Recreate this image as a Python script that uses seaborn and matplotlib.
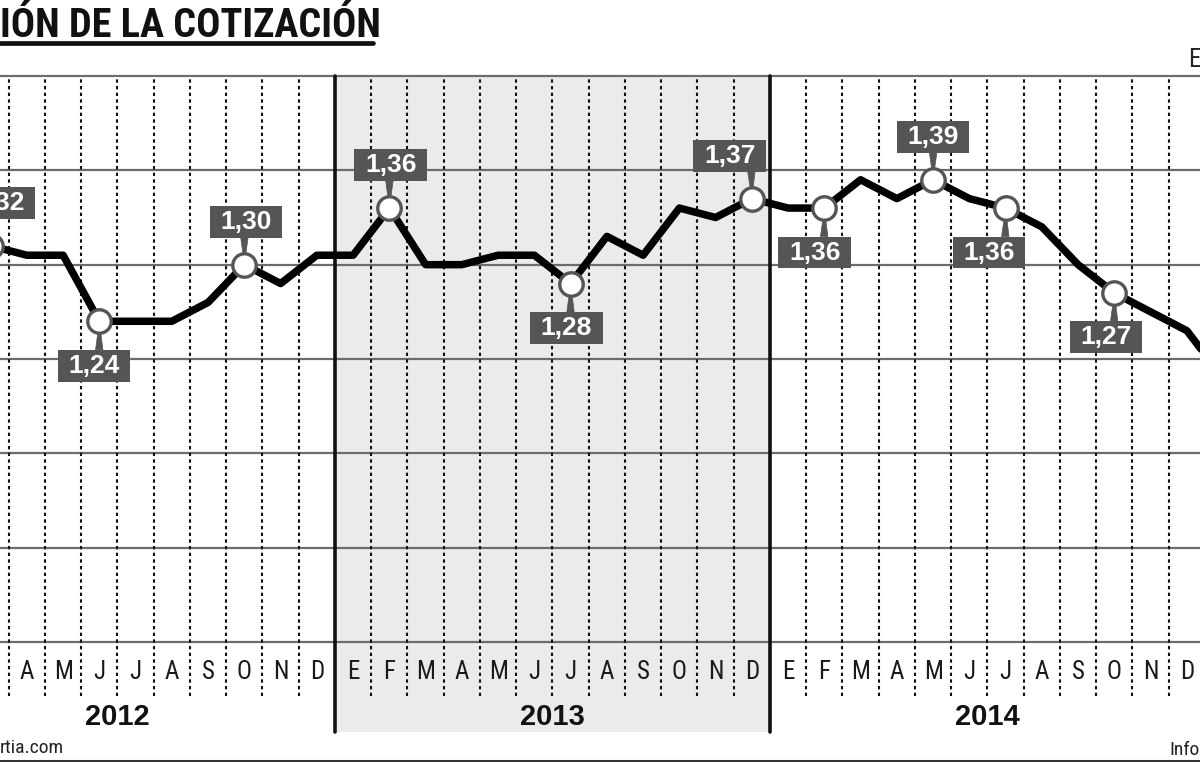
import matplotlib
matplotlib.use("Agg")
import matplotlib.pyplot as plt
import matplotlib.transforms as mtransforms
from matplotlib.lines import Line2D
from matplotlib.path import Path
from matplotlib import font_manager
import seaborn as sns
import pandas as pd

# ---------------- data ----------------
# month index: 0 = enero 2012
month_index = list(range(2, 37))
values = [1.32, 1.31, 1.31, 1.24, 1.24, 1.24, 1.26, 1.30, 1.28, 1.31,          # mar-dic 2012
          1.31, 1.36, 1.30, 1.30, 1.31, 1.31, 1.28, 1.33, 1.31, 1.36, 1.35, 1.37,  # 2013
          1.36, 1.36, 1.39, 1.37, 1.39, 1.37, 1.36, 1.34, 1.30, 1.27, 1.25, 1.23,  # 2014
          1.18]                                                              # ene 2015
month_letters = ["E", "F", "M", "A", "M", "J", "J", "A", "S", "O", "N", "D"]
years = ["2012", "2013", "2014"]
highlight_months = [2, 5, 9, 13, 18, 23, 25, 28, 30, 33]
grid_levels = [0.9, 1.0, 1.1, 1.2, 1.3, 1.4, 1.5]
title = "IÓN DE LA COTIZACIÓN"

# ---------------- label styling (not data) ----------------
label_side = ["up", "down", "up", "up", "down", "up", "down", "up", "down", "down"]
label_dx = [6, -4, 1, 1, -3, -16, -7, 0, -12, -6]   # points

# ---------------- fonts ----------------
available = {f.name for f in font_manager.fontManager.ttflist}
def pick(*cands):
    for c in cands:
        if c in available:
            return c
    return "DejaVu Sans"
NARROW = pick("Liberation Sans Narrow", "Roboto Condensed", "DejaVu Sans")
SANS = pick("Liberation Sans", "Roboto", "DejaVu Sans")

sns.set_style("white")
plt.rcParams["font.family"] = [NARROW, "DejaVu Sans"]

W, H = 1200, 762
fig = plt.figure(figsize=(W / 100, H / 100), dpi=100)
ax_bottom_px, ax_top_px = 642, 76
ax = fig.add_axes([0, 1 - ax_bottom_px / H, 1, (ax_bottom_px - ax_top_px) / H])
ax.set_facecolor("none")

px_per_month = 36.25
x_left = 11.5 - 335 / px_per_month
x_right = x_left + W / px_per_month
ax.set_xlim(x_left, x_right)
ax.set_ylim(grid_levels[0], grid_levels[-1])

ax_h_px = ax_bottom_px - ax_top_px
def ax_y(px):  # pixel row -> axes fraction
    return (ax_bottom_px - px) / ax_h_px

trans = mtransforms.blended_transform_factory(ax.transData, ax.transAxes)

# shaded 2013
ax.axvspan(11.5, 23.5, ymin=ax_y(732), ymax=1, color="#ebebeb", lw=0,
           zorder=0, clip_on=False)

# horizontal gridlines
for g in grid_levels:
    ax.axhline(g, color="#6c6c6c", lw=1.6, zorder=1, clip_on=False)

# vertical month separators
first = int(x_left - 0.5) + 1
for k in range(first, int(x_right) + 1):
    b = k - 0.5
    if b < x_left or b > x_right:
        continue
    if k % 12 == 0:
        ax.axvline(b, ymin=ax_y(732), ymax=1, color="#111111", lw=2.6,
                   zorder=2, clip_on=False)
    else:
        ax.axvline(b, ymin=ax_y(696), ymax=1, color="#111111", lw=1.5,
                   linestyle=(0, (1.6, 1.6)), zorder=2, clip_on=False)

# main line
df = pd.DataFrame({"mes": month_index, "valor": values})
sns.lineplot(data=df, x="mes", y="valor", color="black", linewidth=5.4,
             ax=ax, zorder=3)
for ln in ax.lines:
    ln.set_solid_joinstyle("round")
    ln.set_solid_capstyle("round")

# highlighted markers
hv = [values[month_index.index(m)] for m in highlight_months]
sns.scatterplot(x=highlight_months, y=hv, s=285, color="white",
                edgecolor="#555555", linewidth=2.4, zorder=6, ax=ax,
                clip_on=False)

# labels with box + stem
def label_box(x0, y0, width, height, mutation_size):
    px = 0.40 * mutation_size
    py = 0.15 * mutation_size
    x0 -= px
    y0 -= py
    x1 = x0 + width + 2 * px
    y1 = y0 + height + 2 * py
    return Path([(x0, y0), (x1, y0), (x1, y1), (x0, y1), (x0, y0)], closed=True)

text_w_pt = 38.0
for m, v, side, dx in zip(highlight_months, hv, label_side, label_dx):
    dy = 31 if side == "up" else -32
    relx = min(max(0.5 - dx / text_w_pt, 0.05), 0.95)
    rely = 0.0 if side == "up" else 1.0
    ax.annotate(f"{v:.2f}".replace(".", ","), xy=(m, v), xytext=(dx, dy),
                textcoords="offset points", ha="center", va="center",
                color="white", fontsize=19, fontweight="bold",
                family=[SANS, "DejaVu Sans"],
                bbox=dict(boxstyle=label_box, fc="#555555", ec="none"),
                arrowprops=dict(arrowstyle="wedge,tail_width=0.28",
                                fc="#555555", ec="#555555", lw=0.5,
                                shrinkA=0, shrinkB=0, relpos=(relx, rely)),
                zorder=5, annotation_clip=False)

# month tick labels
ticks = [m for m in range(0, 37) if x_left + 0.3 < m < x_right - 0.3]
ax.set_xticks(ticks)
ax.set_xticklabels([month_letters[m % 12] for m in ticks])
ax.set_yticks(grid_levels)
ax.set_yticklabels([])
ax.tick_params(axis="x", length=0, pad=13, labelsize=18, labelcolor="#1a1a1a")
ax.tick_params(axis="y", length=0)
ax.set_xlabel("")
ax.set_ylabel("")
for s in ax.spines.values():
    s.set_visible(False)

# year labels
for i, y in enumerate(years):
    ax.text(12 * i + 5.5, ax_y(717), y, transform=trans, ha="center",
            va="center", fontsize=21, fontweight="bold", color="#111111",
            family=[SANS, "DejaVu Sans"])

# title with underline
fig.text(0.0, 1 - 37 / H, title, ha="left", va="baseline", fontsize=29,
         fontweight="heavy", color="#111111")
fig.add_artist(Line2D([0, 373 / W], [1 - 43 / H, 1 - 43 / H],
                      transform=fig.transFigure, color="#111111", lw=3.4))

# cropped side texts
fig.text(1.0, 1 - 60 / H, "E", ha="right", va="center", fontsize=18,
         color="#222222")
fig.text(0.0, 1 - 748 / H, "rtia.com", ha="left", va="center", fontsize=14,
         color="#222222")
fig.text(1.0, 1 - 750 / H, "Info", ha="right", va="center", fontsize=14,
         color="#222222")
fig.add_artist(Line2D([0, 1], [1 - 760.5 / H, 1 - 760.5 / H],
                      transform=fig.transFigure, color="#333333", lw=2.2))

fig.savefig("out.png", dpi=100, facecolor="white")
